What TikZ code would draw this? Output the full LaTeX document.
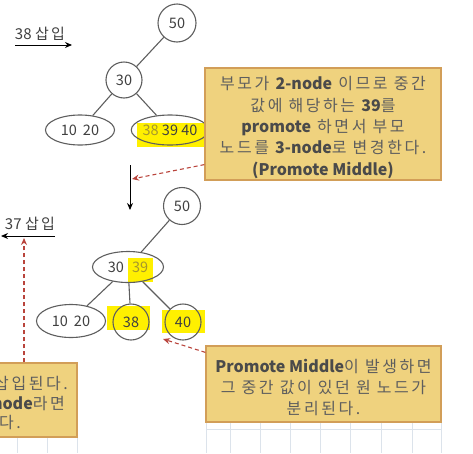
\documentclass[tikz,border=0pt]{standalone}
\usepackage{fontspec}
\setmainfont{Noto Sans CJK KR}[LetterSpace=16]
\newfontfamily\enfont{Noto Sans CJK KR}
\usetikzlibrary{arrows.meta}
\usetikzlibrary{positioning}
\usetikzlibrary{shapes.geometric}

\definecolor{notefill}{HTML}{EFD27E}
\definecolor{notedraw}{HTML}{D29E58}
\definecolor{notetext}{HTML}{5E5E5E}
\definecolor{notelatin}{HTML}{4A4A4A}
\definecolor{keyline}{HTML}{5E5E5E}
\definecolor{keytext}{HTML}{404040}
\definecolor{marker}{HTML}{FFF000}
\definecolor{olivetext}{HTML}{A6982C}
\definecolor{pointer}{HTML}{B9443C}
\definecolor{gridline}{HTML}{DCE3EB}
\newcommand{\en}[1]{{\enfont\bfseries\textcolor{notelatin}{#1}}}

\begin{document}
\begin{tikzpicture}[x=1pt,y=-1pt]
\useasboundingbox (0,0) rectangle (473,453);

\begin{scope}[draw=gridline,line width=0.8pt]
    \foreach \gx in {206,230,260,290,320,350,381,412,441} \draw (\gx,422) -- (\gx,453);
    \draw (206,429) -- (441,429);
    \foreach \gx in {17,47,77} \draw (\gx,437) -- (\gx,453);
\end{scope}

\begin{scope}[fill=marker]
    \fill (137,123) rectangle (213,147);
    \fill (128,258) rectangle (153,282);
    \fill (107,306) rectangle (150,330);
    \fill (162,310) rectangle (205,333);
\end{scope}

\begin{scope}[every node/.style={draw=keyline,line width=1.1pt,text=keytext,inner sep=0pt,
                                 font=\enfont\fontsize{14.5}{16}\selectfont}]
    \node[circle,minimum size=38]                      (top50)   at (177,23)  {50};
    \node[circle,minimum size=36]                      (top30)   at (124,80)  {30};
    \node[ellipse,minimum width=69,minimum height=30]  (top1020) at (80,130)  {10\hspace{6pt}20};
    \node[ellipse,minimum width=67,minimum height=30]  (top3840) at (170,130) {\textcolor{olivetext}{38} 39 40};
    \node[circle,minimum size=37]                      (bot50)   at (182,206) {50};
    \node[ellipse,minimum width=71,minimum height=31]  (bot3039) at (128,267) {30\hspace{8pt}\textcolor{olivetext}{39}};
    \node[ellipse,minimum width=69,minimum height=33]  (bot1020) at (71,321)  {10\hspace{6pt}20};
    \node[circle,minimum size=36]                      (bot38)   at (131,322) {38};
    \node[circle,minimum size=36]                      (bot40)   at (183,322) {40};
\end{scope}

\begin{scope}[every edge/.style={draw=keyline,line width=1.1pt}]
    \path (top50)   edge (top30);
    \path (top30)   edge (top1020);
    \path (top30)   edge (top3840);
    \path (bot50)   edge (bot3039);
    \path (bot3039) edge (bot1020);
    \path (bot3039) edge (bot38);
    \path (bot3039) edge (bot40);
\end{scope}

\begin{scope}[every node/.style={text=keytext,inner sep=0pt,font=\fontsize{15}{16}\selectfont}]
    \node (ins38) at (40,34)  {\enfont 38 \normalfont 삽입};
    \node (ins37) at (30,224) {\enfont 37 \normalfont 삽입};
\end{scope}
\coordinate (ins38a) at (15,45);
\coordinate (ins38b) at (72,45);
\coordinate (ins37a) at (55,236);
\coordinate (ins37b) at (1,236);
\coordinate (downA)  at (130,165);
\coordinate (downB)  at (130,210);

\begin{scope}[>={Stealth[length=7pt,width=6pt]},every edge/.style={draw=black,line width=1pt}]
    \path [->] (ins38a) edge (ins38b);
    \path [->] (ins37a) edge (ins37b);
    \path [->] (downA)  edge (downB);
\end{scope}

\begin{scope}[every node/.style={draw=notedraw,fill=notefill,line width=1.2pt}]
    \node[minimum width=236,minimum height=112] (noteA) at (323,124)   {};
    \node[minimum width=235,minimum height=76]  (noteB) at (323.5,384) {};
    \node[minimum width=87,minimum height=74]   (noteC) at (33.5,400)  {};
\end{scope}

\begin{scope}[every node/.style={text=notetext,align=center,inner sep=0pt,font=\fontsize{16}{21.3}\selectfont}]
    \node (noteAtext) at ([yshift=-3.5pt]noteA.center)
        {부모가 \en{2-node} 이므로 중간\\값에 해당하는 \en{39}를\\\en{promote} 하면서 부모\\노드를 \en{3-node}로 변경한다.\\\en{(Promote Middle)}};
    \node (noteBtext) at ([yshift=-3.5pt]noteB.center)
        {\en{Promote Middle}이 발생하면\\그 중간 값이 있던 원 노드가\\분리된다.};
\end{scope}

\begin{scope}[every node/.style={text=notetext,inner sep=0pt,anchor=east,font=\fontsize{16}{21}\selectfont}]
    \node (noteC1) at (68,384) {삽입된다.};
    \node (noteC2) at (65,404) {\en{node}라면};
    \node (noteC3) at (21,423) {다.};
\end{scope}

\coordinate (hitA) at (132,179);
\coordinate (hitB) at (163,339);
\coordinate (hitC) at (24,238);

\begin{scope}[>={Stealth[pointer,length=7pt,width=6pt]},
              every edge/.style={draw=pointer,line width=1.1pt,dash pattern=on 4pt off 3pt}]
    \path [->] ([yshift=16pt]noteA.south west) edge (hitA);
    \path [->] ([yshift=-7pt]noteB.north west) edge (hitB);
    \path [->] (noteC.north -| hitC)           edge (hitC);
\end{scope}
\end{tikzpicture}
\end{document}
